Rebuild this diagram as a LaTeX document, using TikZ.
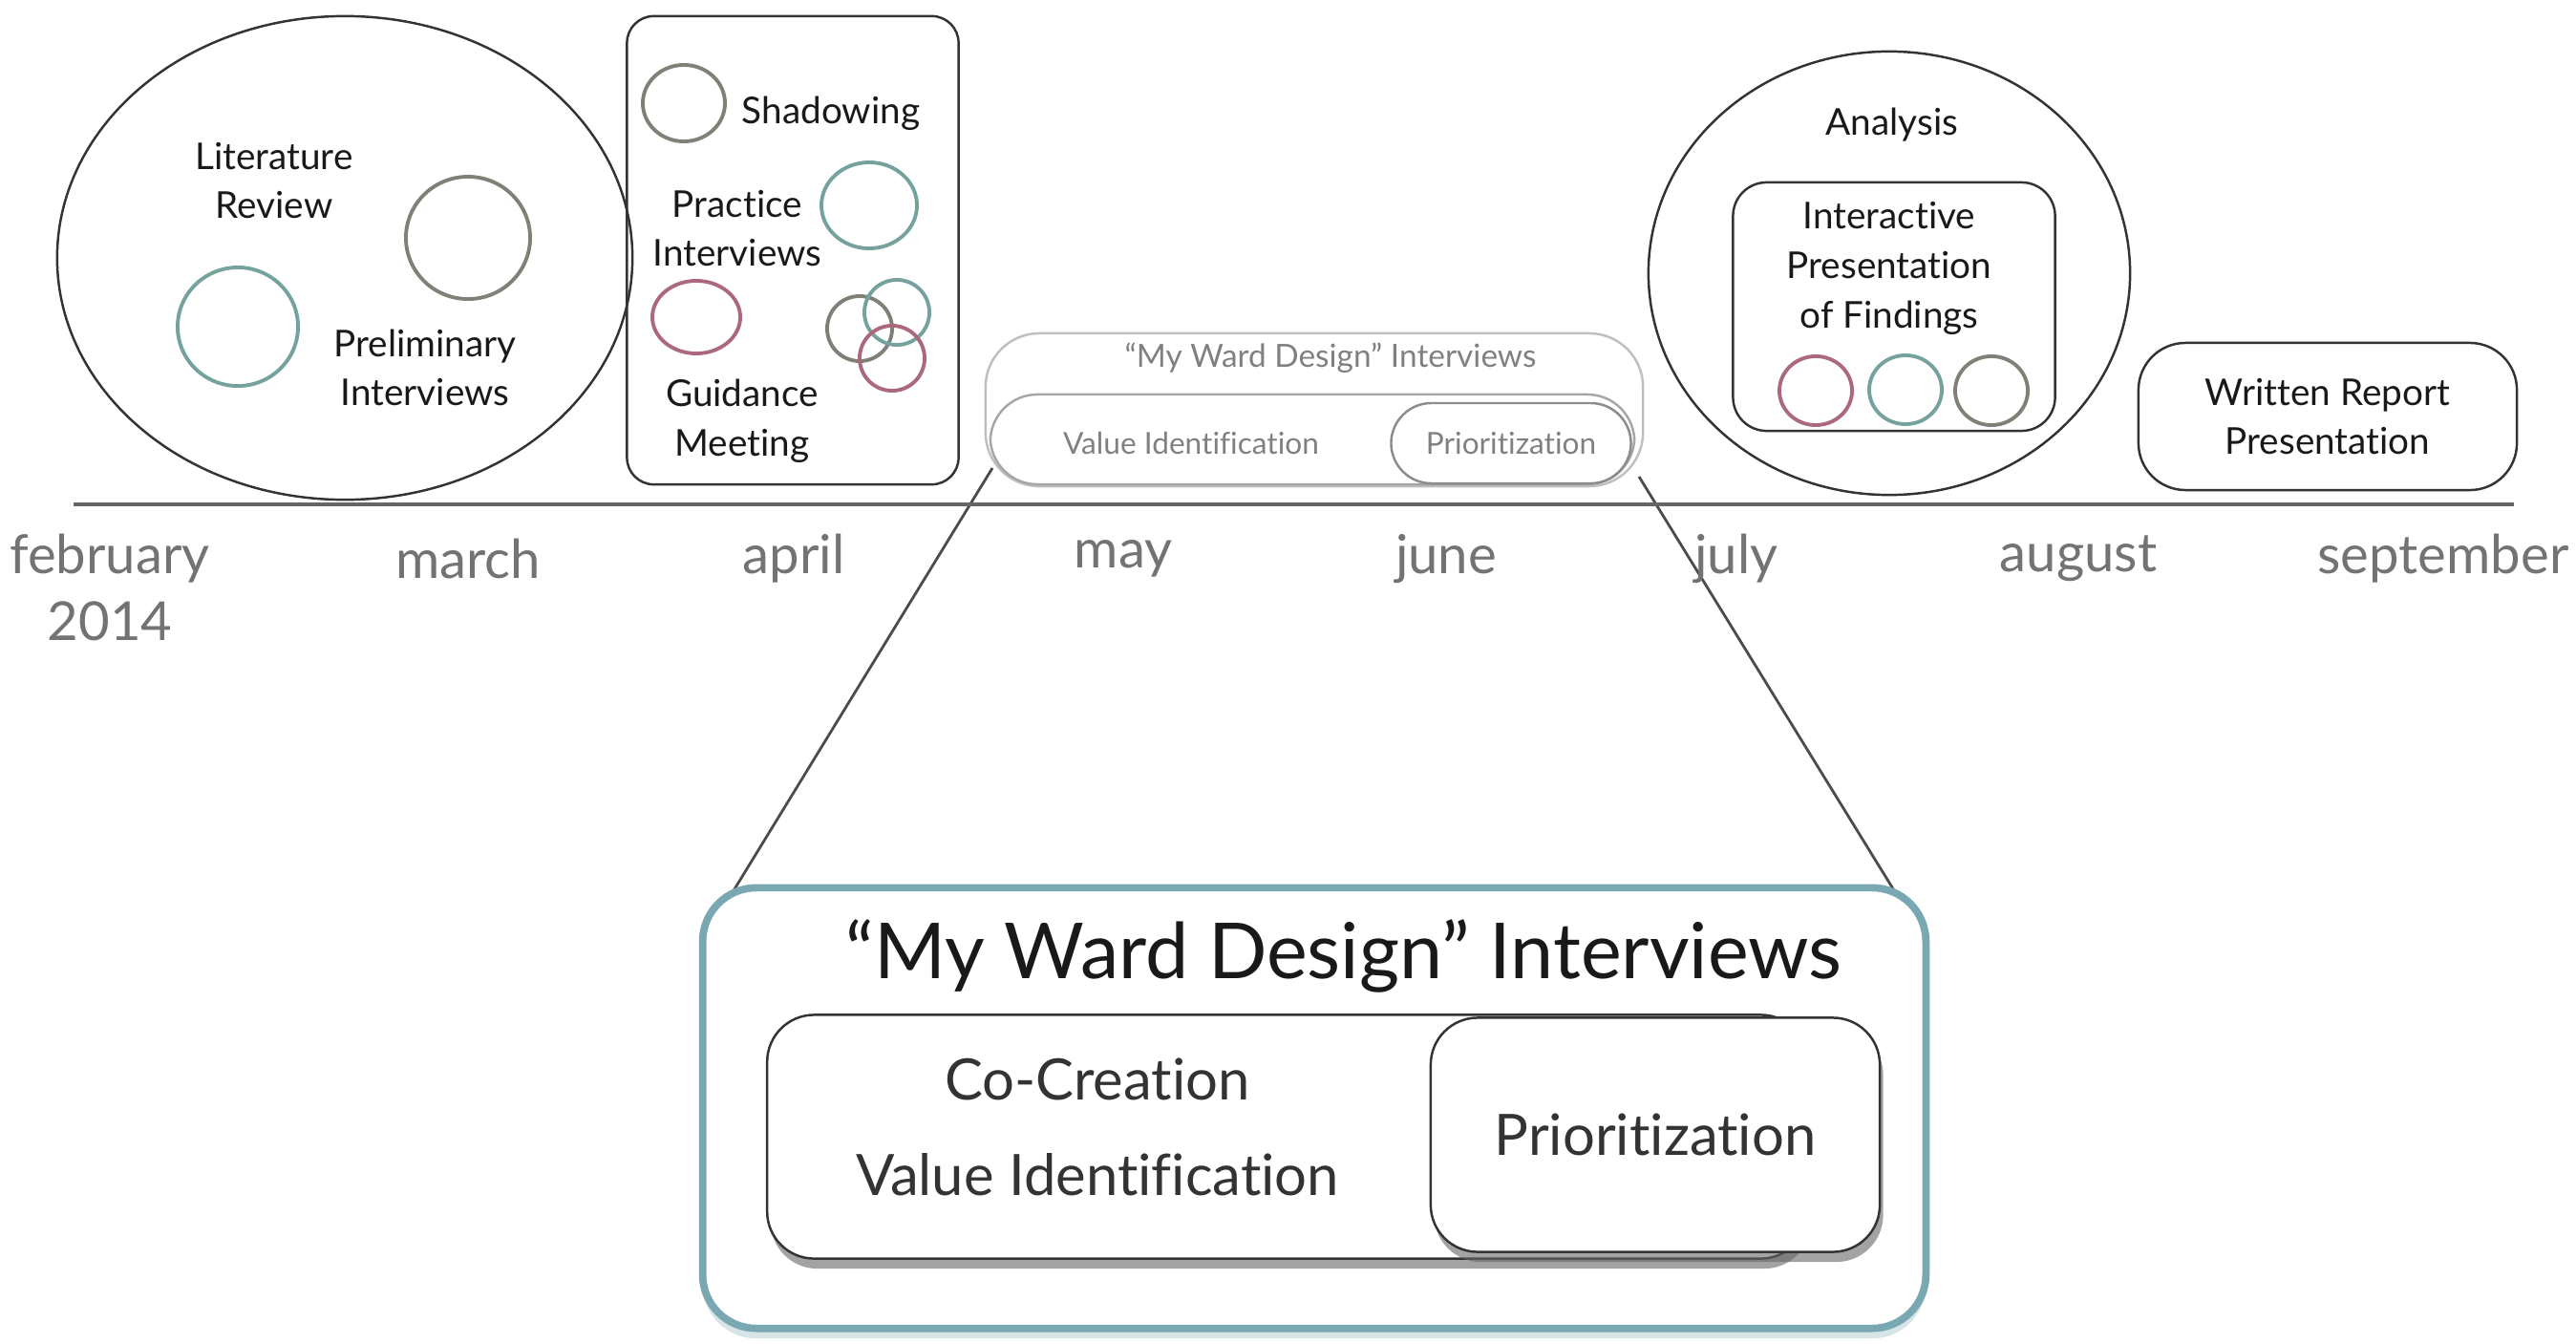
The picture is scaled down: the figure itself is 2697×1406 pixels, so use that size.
\documentclass[tikz,border=0pt]{standalone}
\usepackage{fontspec}
\setmainfont{Lato}[Ligatures=NoCommon]
\usepackage{tikz}
\usetikzlibrary{
  	positioning,
  	shapes,
		shadows,
  	calc
  }
\definecolor{ringteal}{RGB}{118,162,158}
\definecolor{ringgray}{RGB}{128,128,118}
\definecolor{ringred}{RGB}{172,104,124}
\definecolor{zoomteal}{RGB}{122,168,178}
\tikzstyle{phase}=[draw=black!80,line width=0.7pt,rounded corners=8pt,inner sep=0pt]
\tikzstyle{blob}=[ellipse,draw=black!80,line width=0.7pt,inner sep=0pt]
\tikzstyle{ring}=[ellipse,line width=1.1pt,inner sep=0pt]
\tikzstyle{lbl}=[align=center,text=black!90,font=\fontsize{11}{14.7}\selectfont]
\tikzstyle{month}=[align=center,text=black!55,font=\fontsize{16}{20}\selectfont]
\tikzstyle{faint}=[align=center,text=black!50,font=\fontsize{9}{11}\selectfont]
\tikzstyle{big}=[align=center,text=black!80,font=\fontsize{17}{28.5}\selectfont]

\begin{document}
\begin{tikzpicture}[x=0.01cm,y=-0.01cm]
	\useasboundingbox (0,0) rectangle (2697,1406);
%
	% preparation
	\node[blob,minimum width=6.02cm,minimum height=5.06cm] at (361,270) (prep) {};
	\node[lbl] at (287,189) (litrev) {Literature\\Review};
	\node[ring,draw=ringgray,minimum width=1.30cm,minimum height=1.28cm] at (490,249) (prelimring) {};
	\node[ring,draw=ringteal,minimum width=1.26cm,minimum height=1.24cm] at (249,342) (litring) {};
	\node[lbl] at (445,385) (prelim) {Preliminary\\Interviews};
%
	% pilot
	\node[phase,minimum width=3.47cm,minimum height=4.90cm] at (830,262) (pilot) {};
	\node[ring,draw=ringgray,minimum width=0.86cm,minimum height=0.80cm] at (716,108) (shadring) {};
	\node[lbl] at (870,119) (shad) {Shadowing};
	\node[lbl] at (772,239) (practice) {Practice\\Interviews};
	\node[ring,draw=ringteal,minimum width=1.00cm,minimum height=0.90cm] at (910,215) (practring) {};
	\node[ring,draw=ringred,minimum width=0.92cm,minimum height=0.76cm] at (729,332) (guidring) {};
	\node[ring,draw=ringgray,minimum size=0.68cm] at (900,344) (mixa) {};
	\node[ring,draw=ringteal,minimum size=0.68cm] at (939,327) (mixb) {};
	\node[ring,draw=ringred,minimum size=0.68cm] at (934,375) (mixc) {};
	\node[lbl] at (777,441) (guid) {Guidance\\Meeting};
%
	% zoom lines
	\draw[black!70,line width=0.8pt]
		($(1032,509)+(7,-19)$) coordinate (zla) -- (767,934) coordinate (zlb)
		(1716,499) coordinate (zra) -- (1986,937) coordinate (zrb);
%
	% my ward design, small
	\node[phase,draw=black!25,rounded corners=16pt,minimum width=6.88cm,minimum height=1.60cm] at (1376,429) (mwdsmall) {};
	\node[faint,font=\fontsize{9.5}{11}\selectfont] at (1393,375) (mwdtitle) {``My Ward Design'' Interviews};
	\node[phase,draw=black!35,rounded corners=14pt,minimum width=6.74cm,minimum height=0.94cm] at (1374,460) (valsmall) {};
	\node[faint] at (1247,464) (valtext) {Value Identification};
	\node[phase,draw=black!45,rounded corners=12pt,minimum width=2.51cm,minimum height=0.84cm,faint] at (1582,464) (priosmall) {Prioritization};
%
	% time line
	\coordinate (tstart) at (77,528);
	\coordinate (tend) at (2632,528);
	\draw[black!60,line width=1pt] (tstart) -- (tend);
	\node[month] at (115,615) (feb) {february\\2014};
	\foreach \m/\x in {march/490,april/831,may/1176,june/1514,july/1818,august/2176,september/2558}
		\node[month] at (\x,585) (\m) {\m};
%
	% analysis
	\node[blob,minimum width=5.04cm,minimum height=4.64cm] at (1978,286) (analysis) {};
	\node[lbl] at (1981,131) (antext) {Analysis};
	\node[phase,rounded corners=10pt,minimum width=3.37cm,minimum height=2.60cm] at (1983,321) (interact) {};
	\node[lbl] at (1978,281) (intext) {Interactive\\Presentation\\of Findings};
	\node[ring,draw=ringred,minimum width=0.76cm,minimum height=0.72cm] at (1901,409) (ina) {};
	\node[ring,draw=ringteal,minimum width=0.76cm,minimum height=0.72cm] at (1995,408) (inb) {};
	\node[ring,draw=ringgray,minimum width=0.76cm,minimum height=0.72cm] at (2085,409) (inc) {};
%
	% report
	\node[phase,rounded corners=14pt,minimum width=3.96cm,minimum height=1.54cm,lbl] at (2437,436) (report) {Written Report\\Presentation};
%
	% my ward design, zoomed in
	\node[phase,draw=zoomteal,line width=2.2pt,fill=white,rounded corners=16pt,minimum width=12.80cm,minimum height=4.61cm,
		drop shadow={shadow xshift=0pt,shadow yshift=-3pt,fill=zoomteal!60,opacity=0.5}] at (1376,1160) (mwdbig) {};
	\node[big,text=black!90,font=\fontsize{23}{28}\selectfont] at (1407,1001) (bigtitle) {``My Ward Design'' Interviews};
	\node[phase,fill=white,rounded corners=14pt,minimum width=10.89cm,minimum height=2.55cm,
		drop shadow={shadow xshift=1pt,shadow yshift=-3pt,fill=black!60,opacity=0.6}] at (1348,1190) (valbig) {};
	\node[big] at (1149,1180) (cocreate) {Co-Creation\\Value Identification};
	\node[phase,fill=white,rounded corners=14pt,minimum width=4.70cm,minimum height=2.45cm,big,
		drop shadow={shadow xshift=1pt,shadow yshift=-3pt,fill=black!60,opacity=0.6}] at (1733,1188) (priobig) {Prioritization};
\end{tikzpicture}
\end{document}
